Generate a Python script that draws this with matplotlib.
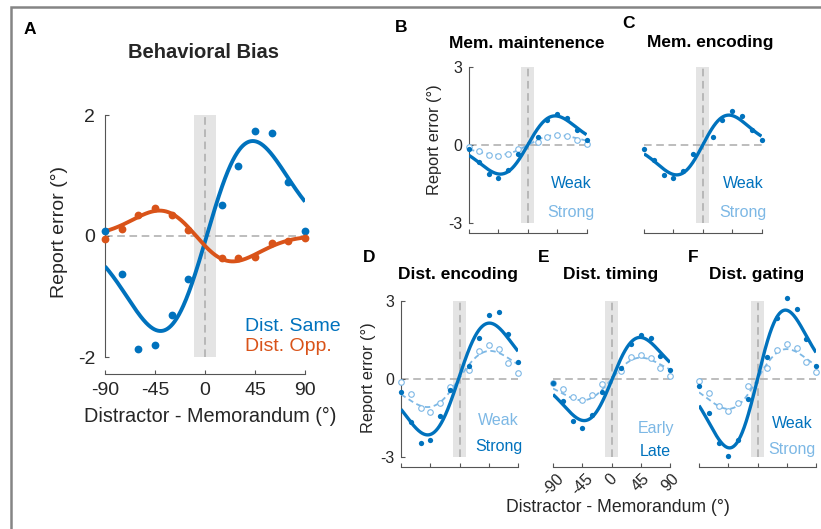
import numpy as np
import matplotlib
matplotlib.use('Agg')
import matplotlib.pyplot as plt
from matplotlib.patches import Rectangle

plt.rcParams['font.family'] = ['Liberation Sans', 'DejaVu Sans']

BLUE = '#0072bd'
LIGHT = '#7db8e5'
ORANGE = '#d95319'
SHADE = '#e4e4e4'
ZERO = '#ababab'
INK = '#262626'
SPINE = '#555555'

# distractor - memorandum offsets (deg)
offsets = [-90, -75, -60, -45, -30, -15, 15, 30, 45, 60, 75, 90]

# A: behavioral bias
same_err = [0.08, -0.63, -1.87, -1.80, -1.30, -0.71, 0.52, 1.16, 1.73, 1.70, 0.90, 0.09]
opp_err = [-0.05, 0.11, 0.34, 0.47, 0.34, 0.10, -0.36, -0.36, -0.35, -0.12, -0.08, -0.04]
same_fit = (1.57, 1.5, 41.5)     # peak, centre, width
opp_fit = (-0.42, -8.0, 33.0)

# B: memory maintenance
maint_weak = [-0.14, -0.64, -1.13, -1.27, -0.97, -0.35, 0.30, 0.95, 1.20, 1.02, 0.56, 0.20]
maint_strong = [-0.07, -0.22, -0.37, -0.43, -0.35, -0.17, 0.12, 0.32, 0.37, 0.36, 0.20, 0.04]
maint_weak_fit = (1.12, 0.0, 42.0)
maint_strong_fit = (0.38, 0.0, 45.0)

# C: memory encoding
enc_weak = [-0.14, -0.58, -1.15, -1.28, -0.99, -0.36, 0.29, 0.95, 1.31, 1.13, 0.58, 0.19]
enc_weak_fit = (1.15, 0.0, 40.0)

# D: distractor encoding
denc_weak = [-0.10, -0.58, -1.11, -1.27, -0.93, -0.30, 0.35, 1.06, 1.31, 1.15, 0.60, 0.22]
denc_strong = [-0.51, -1.64, -2.48, -2.33, -1.42, -0.44, 0.51, 1.59, 2.45, 2.58, 1.75, 0.67]
denc_weak_fit = (1.08, -1.0, 48.0)
denc_strong_fit = (2.15, -1.5, 47.5)

# E: distractor timing
time_early = [-0.15, -0.38, -0.68, -0.82, -0.63, -0.19, 0.32, 0.84, 0.91, 0.82, 0.43, 0.10]
time_late = [-0.15, -0.83, -1.63, -1.88, -1.40, -0.51, 0.44, 1.33, 1.68, 1.56, 0.89, 0.36]
time_early_fit = (0.82, 0.0, 45.0)
time_late_fit = (1.60, 1.0, 43.0)

# F: distractor gating
gate_weak = [-0.26, -1.31, -2.47, -2.96, -2.34, -0.77, 0.85, 2.35, 3.10, 2.71, 1.52, 0.49]
gate_strong = [-0.06, -0.54, -1.05, -1.22, -0.93, -0.28, 0.42, 1.13, 1.36, 1.20, 0.64, 0.26]
gate_weak_fit = (2.65, 0.0, 43.0)
gate_strong_fit = (1.15, 0.0, 45.0)

xticks = [-90, -45, 0, 45, 90]

W, H = 821, 529
fig = plt.figure(figsize=(W / 100, H / 100), dpi=100)


def px_axes(left, top, right, bottom):
    return fig.add_axes([left / W, 1 - bottom / H, (right - left) / W, (bottom - top) / H])


def dog(x, peak, centre, width):
    # derivative-of-Gaussian tuning curve, equals `peak` at centre + width
    u = (x - centre) / width
    return peak * u * np.exp(0.5 - u ** 2 / 2)


def setup(ax, lim, show_y, fs, off):
    ax.set_xlim(-90, 90)
    ax.set_ylim(-lim, lim)
    ax.axvspan(-10, 10, color=SHADE, lw=0, zorder=0)
    ax.axvline(0, color=ZERO, lw=1.1, dashes=(5, 3), zorder=1)
    ax.axhline(0, color=ZERO, lw=1.1, dashes=(5, 3), zorder=1)
    ax.patch.set_visible(False)
    for s in ['top', 'right']:
        ax.spines[s].set_visible(False)
    ax.spines['bottom'].set_position(('outward', off))
    ax.spines['bottom'].set_color(SPINE)
    ax.spines['left'].set_color(SPINE)
    ax.spines['bottom'].set_linewidth(0.8)
    ax.spines['left'].set_linewidth(0.8)
    ax.set_xticks(xticks)
    ax.tick_params(direction='in', length=3, width=0.8, color=SPINE,
                   labelsize=fs, labelcolor=INK)
    ax.set_xticklabels([])
    if show_y:
        ax.set_yticks([-lim, 0, lim])
        ax.set_yticklabels([str(-lim), '0', str(lim)])
    else:
        ax.spines['left'].set_visible(False)
        ax.set_yticks([])


xs = np.linspace(-90, 90, 361)


def curve(ax, vals, fit, color, lw, ms, dashed=False, hollow=False):
    if dashed:
        ax.plot(xs, dog(xs, *fit), color=color, lw=lw, dashes=(3, 2), zorder=3)
    else:
        ax.plot(xs, dog(xs, *fit), color=color, lw=lw, zorder=4,
                solid_capstyle='butt')
    if hollow:
        ax.plot(offsets, vals, 'o', ms=ms, mfc='white', mec=color, mew=0.8,
                zorder=3, clip_on=False)
    else:
        ax.plot(offsets, vals, 'o', ms=ms, color=color, mew=0, zorder=5,
                clip_on=False)


# ---- A
axA = px_axes(105, 115, 305, 357)
setup(axA, 2, True, 14, 12)
curve(axA, same_err, same_fit, BLUE, 2.8, 5.6)
curve(axA, opp_err, opp_fit, ORANGE, 2.8, 5.6)
axA.set_xticklabels([str(t) for t in xticks])
axA.tick_params(axis='x', pad=6)
axA.tick_params(axis='y', pad=7)
axA.text(36, -1.5, 'Dist. Same', color=BLUE, fontsize=14, ha='left', va='center')
axA.text(36, -1.83, 'Dist. Opp.', color=ORANGE, fontsize=14, ha='left', va='center')
fig.text(60 / W, 1 - 232 / H, 'Report error (°)', rotation=90, fontsize=14,
         color=INK, ha='center', va='center')
fig.text(210 / W, 1 - 416 / H, 'Distractor - Memorandum (°)', fontsize=14.3,
         color=INK, ha='center', va='center')
fig.text(203 / W, 1 - 53 / H, 'Behavioral Bias', fontsize=14.5,
         fontweight='bold', color=INK, ha='center', va='center')

# ---- B
axB = px_axes(469, 67, 586.5, 223)
setup(axB, 3, True, 11.5, 7)
curve(axB, maint_strong, maint_strong_fit, LIGHT, 1.3, 4.0, dashed=True, hollow=True)
curve(axB, maint_weak, maint_weak_fit, BLUE, 2.4, 3.8)
axB.tick_params(axis='y', pad=5)
axB.text(66, -1.5, 'Weak', color=BLUE, fontsize=11.5, ha='center', va='center')
axB.text(66, -2.58, 'Strong', color=LIGHT, fontsize=11.5, ha='center', va='center')
fig.text(434 / W, 1 - 140 / H, 'Report error (°)', rotation=90, fontsize=11.8,
         color=INK, ha='center', va='center')

# ---- C
axC = px_axes(644, 67, 761.5, 223)
setup(axC, 3, False, 11.5, 7)
curve(axC, enc_weak, enc_weak_fit, BLUE, 2.4, 3.8)
axC.text(62, -1.5, 'Weak', color=BLUE, fontsize=11.5, ha='center', va='center')
axC.text(62, -2.58, 'Strong', color=LIGHT, fontsize=11.5, ha='center', va='center')

# ---- D
axD = px_axes(401, 301, 518, 457)
setup(axD, 3, True, 11.5, 7)
curve(axD, denc_weak, denc_weak_fit, LIGHT, 1.3, 4.0, dashed=True, hollow=True)
curve(axD, denc_strong, denc_strong_fit, BLUE, 2.4, 3.8)
axD.tick_params(axis='y', pad=5)
axD.text(60, -1.6, 'Weak', color=LIGHT, fontsize=11.5, ha='center', va='center')
axD.text(60, -2.6, 'Strong', color=BLUE, fontsize=11.5, ha='center', va='center')
fig.text(368 / W, 1 - 378 / H, 'Report error (°)', rotation=90, fontsize=11.8,
         color=INK, ha='center', va='center')

# ---- E
axE = px_axes(553, 301, 670, 457)
setup(axE, 3, False, 11.5, 7)
curve(axE, time_early, time_early_fit, LIGHT, 1.3, 4.0, dashed=True, hollow=True)
curve(axE, time_late, time_late_fit, BLUE, 2.4, 3.8)
axE.set_xticklabels([str(t) for t in xticks], rotation=45, ha='center', va='top')
axE.tick_params(axis='x', pad=3)
axE.text(68, -1.9, 'Early', color=LIGHT, fontsize=11.5, ha='center', va='center')
axE.text(68, -2.8, 'Late', color=BLUE, fontsize=11.5, ha='center', va='center')

# ---- F
axF = px_axes(699, 301, 816, 457)
setup(axF, 3, False, 11.5, 7)
curve(axF, gate_strong, gate_strong_fit, LIGHT, 1.3, 4.0, dashed=True, hollow=True)
curve(axF, gate_weak, gate_weak_fit, BLUE, 2.4, 3.8)
axF.text(53, -1.7, 'Weak', color=BLUE, fontsize=11.5, ha='center', va='center')
axF.text(53, -2.7, 'Strong', color=LIGHT, fontsize=11.5, ha='center', va='center')

fig.text(618 / W, 1 - 507 / H, 'Distractor - Memorandum (°)', fontsize=12.7,
         color=INK, ha='center', va='center')

# panel titles and letters
titles = [(527, 43, 'Mem. maintenence'), (710, 43, 'Mem. encoding'),
          (458, 275, 'Dist. encoding'), (611, 275, 'Dist. timing'),
          (757, 275, 'Dist. gating')]
for x, y, t in titles:
    fig.text(x / W, 1 - y / H, t, fontsize=12.5, fontweight='bold', color='black',
             ha='center', va='center')

letters = [(24, 29, 'A'), (395, 28, 'B'), (622, 24, 'C'),
           (363, 257, 'D'), (538, 257, 'E'), (688, 257, 'F')]
for x, y, t in letters:
    fig.text(x / W, 1 - y / H, t, fontsize=12.5, fontweight='bold', color='black',
             ha='left', va='center')

# outer frame
fig.patches.append(Rectangle((11 / W, -0.2), 1.5, 1.2 - 7 / H, transform=fig.transFigure,
                             fill=False, edgecolor='#858585', lw=1.8))

fig.savefig('out.png', dpi=100)
